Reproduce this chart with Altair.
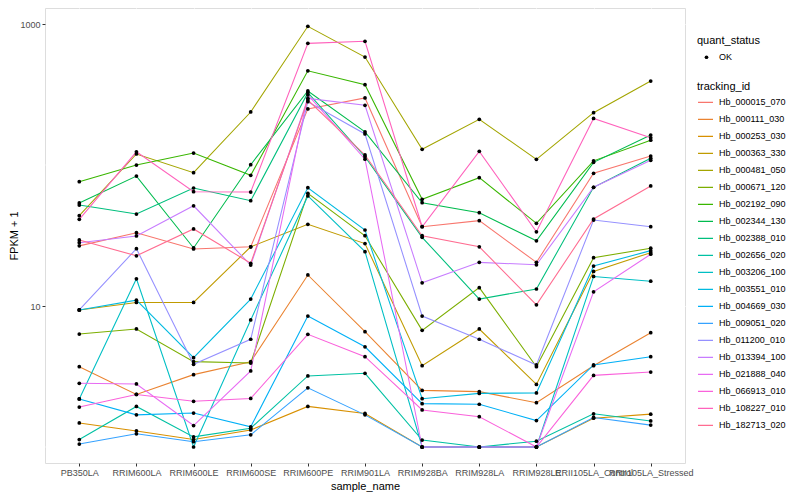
import altair as alt
import pandas as pd

samples = ["PB350LA", "RRIM600LA", "RRIM600LE", "RRIM600SE", "RRIM600PE", "RRIM901LA",
           "RRIM928BA", "RRIM928LA", "RRIM928LE", "RRII105LA_Control", "RRII105LA_Stressed"]

tracking_ids = ["Hb_000015_070", "Hb_000111_030", "Hb_000253_030", "Hb_000363_330", "Hb_000481_050",
                "Hb_000671_120", "Hb_002192_090", "Hb_002344_130", "Hb_002388_010", "Hb_002656_020",
                "Hb_003206_100", "Hb_003551_010", "Hb_004669_030", "Hb_009051_020", "Hb_011200_010",
                "Hb_013394_100", "Hb_021888_040", "Hb_066913_010", "Hb_108227_010", "Hb_182713_020"]

hb_000015_070 = [26.7, 33.1, 25.4, 26.3, 250, 299, 36.5, 40.3, 20.4, 87.3, 115.8]
hb_000111_030 = [3.71, 2.36, 3.26, 4.03, 16.6, 6.57, 2.52, 2.47, 2.06, 3.77, 6.47]
hb_000253_030 = [1.48, 1.30, 1.13, 1.32, 1.94, 1.73, 1, 1, 1, 1.60, 1.71]
hb_000363_330 = [9.37, 10.6, 10.6, 26.3, 38.0, 27.7, 3.77, 6.87, 2.78, 17.6, 23.9]
hb_000481_050 = [43.7, 119.7, 88.2, 237.7, 963, 583, 129.2, 211, 109.7, 235, 394]
hb_000671_120 = [6.33, 6.87, 4.03, 3.94, 63.0, 31.5, 6.72, 13.5, 3.71, 22.0, 25.7]
hb_002192_090 = [76.2, 100, 121.6, 84.5, 466, 371, 57.1, 81.3, 38.6, 107, 150]
hb_002344_130 = [53.8, 83.5, 25.8, 100.5, 335, 172, 54, 45.9, 29, 104.5, 163]
hb_002388_010 = [52, 44.9, 68.7, 55.8, 326, 114.5, 30.7, 11.2, 13.2, 69.5, 111.6]
hb_002656_020 = [1.13, 1.94, 1.18, 1.36, 3.19, 3.33, 1.12, 1, 1.10, 1.72, 1.53]
hb_003206_100 = [2.19, 15.6, 1, 7.96, 60.3, 24.3, 1, 1, 1, 16.2, 15.0]
hb_003551_010 = [9.37, 11.0, 4.30, 11.2, 69.0, 34.6, 2.20, 2.40, 2.42, 19.2, 24.7]
hb_004669_030 = [2.19, 1.69, 1.74, 1.39, 8.49, 5.14, 2.03, 2.01, 1.54, 3.82, 4.37]
hb_009051_020 = [1.05, 1.24, 1.09, 1.22, 2.63, 1.69, 1, 1, 1, 1.62, 1.43]
hb_011200_010 = [9.37, 25.5, 3.86, 5.81, 281, 166, 8.49, 5.81, 3.82, 40.7, 36.5]
hb_013394_100 = [28.1, 31.4, 51.4, 19.5, 297, 265, 14.6, 20.4, 19.6, 69.5, 108]
hb_021888_040 = [2.83, 2.80, 1.42, 3.46, 314, 110, 1, 1, 1, 12.6, 23.3]
hb_066913_010 = [1.92, 2.36, 2.11, 2.21, 6.30, 4.37, 1.83, 1.64, 1, 3.22, 3.40]
hb_108227_010 = [41.2, 124, 64.7, 64.3, 729, 754, 36.5, 125, 33.6, 214, 156]
hb_182713_020 = [29.4, 22.7, 35.2, 20.1, 289, 117.8, 31.5, 26.3, 10.2, 41.4, 71]

series = [hb_000015_070, hb_000111_030, hb_000253_030, hb_000363_330, hb_000481_050,
          hb_000671_120, hb_002192_090, hb_002344_130, hb_002388_010, hb_002656_020,
          hb_003206_100, hb_003551_010, hb_004669_030, hb_009051_020, hb_011200_010,
          hb_013394_100, hb_021888_040, hb_066913_010, hb_108227_010, hb_182713_020]

colors = ["#F8766D", "#EA8331", "#D89000", "#C09B00", "#A3A500", "#7CAE00", "#39B600", "#00BB4E",
          "#00BF7D", "#00C1A3", "#00BFC4", "#00BAE0", "#00B0F6", "#35A2FF", "#9590FF", "#C77CFF",
          "#E76BF3", "#FA62DB", "#FF62BC", "#FF6C91"]

y_ticks = [10, 1000]
minor_breaks = [1, 100]

rows = []
for tid, vals in zip(tracking_ids, series):
    for i, (s, v) in enumerate(zip(samples, vals)):
        rows.append({"tracking_id": tid, "sample_name": s, "idx": i, "value": v, "quant_status": "OK"})
df = pd.DataFrame(rows)

FONT = "Liberation Sans"

x_enc = alt.X("sample_name:N", sort=samples,
              scale=alt.Scale(type="point", padding=0.6),
              axis=alt.Axis(title="sample_name", labelAngle=0, labelOverlap=False, labelBound=False,
                            labelFontSize=9, labelColor="#4D4D4D", labelPadding=2,
                            tickSize=3, tickColor="#333333", domain=False,
                            grid=True, gridColor="white", gridWidth=1.07,
                            titleFontSize=11, titleFontWeight="normal", titleColor="black",
                            titlePadding=3))
y_scale = alt.Scale(type="log", domain=[0.770, 1299], nice=False)
y_enc = alt.Y("value:Q", scale=y_scale,
              axis=alt.Axis(title="FPKM + 1", values=y_ticks, format="d",
                            labelFontSize=9, labelColor="#4D4D4D", labelPadding=2,
                            tickSize=3, tickColor="#333333", domain=False,
                            grid=True, gridColor="white", gridWidth=1.07,
                            titleFontSize=11, titleFontWeight="normal", titleColor="black",
                            titlePadding=0))

minor = alt.Chart(pd.DataFrame({"value": minor_breaks})).mark_rule(
    color="white", strokeWidth=0.55).encode(y=y_enc)

lines = alt.Chart(df).mark_line(strokeWidth=1.07).encode(
    x=x_enc, y=y_enc,
    order=alt.Order("idx:Q"),
    stroke=alt.Stroke("tracking_id:N",
                      scale=alt.Scale(domain=tracking_ids, range=colors),
                      legend=alt.Legend(title="tracking_id", orient="none", legendX=652, legendY=73,
                                        symbolType="stroke", symbolSize=225, symbolStrokeWidth=1.1,
                                        clipHeight=16.72, rowPadding=0, titlePadding=2,
                                        labelOffset=5, labelFontSize=9, labelColor="black",
                                        titleFontSize=11, titleFontWeight="normal", titleColor="black",
                                        padding=0)))

points = alt.Chart(df).mark_circle(size=14, opacity=1).encode(
    x=x_enc, y=y_enc,
    fill=alt.Fill("quant_status:N", scale=alt.Scale(domain=["OK"], range=["black"]),
                  legend=alt.Legend(title="quant_status", orient="none", legendX=652, legendY=27,
                                    symbolType="circle", symbolSize=14, symbolOffset=5,
                                    clipHeight=16.5, titlePadding=3, labelOffset=8,
                                    labelFontSize=9, labelColor="black",
                                    titleFontSize=11, titleFontWeight="normal", titleColor="black",
                                    padding=0)))

chart = alt.layer(minor, lines, points).properties(
    width=640, height=455,
    autosize=alt.AutoSizeParams(type="none"),
    padding={"left": 37, "top": 0, "right": 107, "bottom": 29},
).configure_view(fill="#EBEBEB", stroke=None).configure(font=FONT)

chart.save("out.html", embed_options={"renderer": "svg", "actions": False})
